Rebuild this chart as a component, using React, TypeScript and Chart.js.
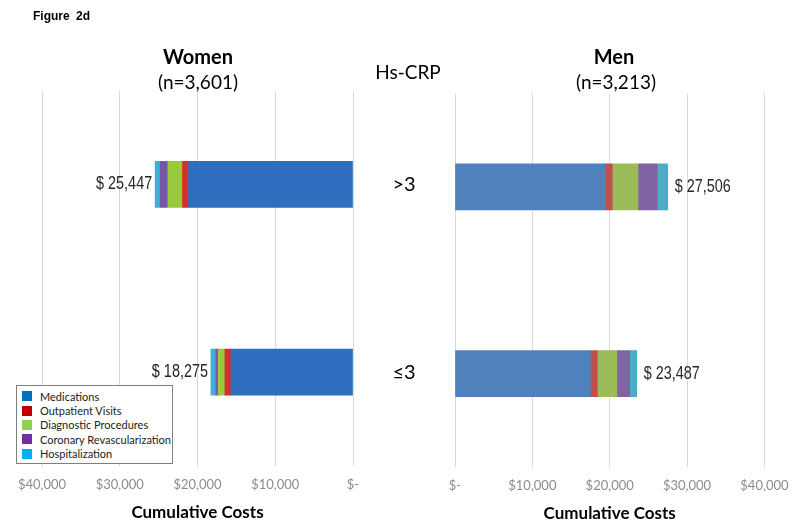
import React, { useEffect, useRef } from "react";
import { Chart, registerables } from "chart.js";

Chart.register(...registerables);

// ---------- data ----------
const categories = [">3", "≤3"];
const seriesNames = [
  "Medications",
  "Outpatient Visits",
  "Diagnostic Procedures",
  "Coronary Revascularization",
  "Hospitalization",
];
const womenMedications = [21150, 15705];
const womenOutpatient = [780, 770];
const womenDiagnostic = [1880, 860];
const womenCoronary = [990, 300];
const womenHospitalization = [647, 640];

const menMedications = [19476, 17495];
const menOutpatient = [850, 900];
const menDiagnostic = [3330, 2525];
const menCoronary = [2490, 1667];
const menHospitalization = [1360, 900];

const xMin = 0;
const xMax = 40000;
const xStep = 10000;

const womenHeading = "Women";
const womenN = "(n=3,601)";
const menHeading = "Men";
const menN = "(n=3,213)";
const middleHeading = "Hs-CRP";
const figureLabel = "Figure 2d";
const axisTitle = "Cumulative Costs";

// ---------- styles ----------
const womenColors = ["#2F6FBF", "#D2322D", "#9AC93C", "#7656A8", "#3DB0D8"];
const menColors = ["#4F81BD", "#C0504D", "#9BBB59", "#8064A2", "#4BACC6"];
const legendColors = ["#0070C0", "#C00000", "#92D050", "#7030A0", "#00B0F0"];

const CAL = 'Lato, "Open Sans", sans-serif';

const fmtTick = (v: number) => (v === 0 ? "$-" : "$" + v.toLocaleString("en-US"));
const fmtTotal = (v: number) => "$ " + v.toLocaleString("en-US");

const NARROW = 0.8;

const valueLabelPlugin = {
  id: "valueLabels",
  afterDatasetsDraw(chart: any, _args: any, opts: any) {
    const { ctx } = chart;
    const x = chart.scales.x;
    const y = chart.scales.y;
    const n = chart.data.labels.length;
    for (let i = 0; i < n; i++) {
      const total = chart.data.datasets.reduce((s: number, d: any) => s + d.data[i], 0);
      const px = x.getPixelForValue(total);
      const py = y.getPixelForValue(i);
      // narrow (condensed) value label
      ctx.save();
      ctx.textBaseline = "middle";
      ctx.font = '18px "Liberation Sans", Arial, sans-serif';
      ctx.fillStyle = "#262626";
      const tx = opts.side === "left" ? px - 3 : px + 7;
      ctx.translate(tx, py);
      ctx.scale(NARROW, 1);
      ctx.textAlign = opts.side === "left" ? "right" : "left";
      ctx.fillText(fmtTotal(total), 0, 0);
      ctx.restore();
      if (opts.categoryX != null) {
        ctx.save();
        ctx.textBaseline = "middle";
        ctx.font = "20px " + CAL;
        ctx.fillStyle = "#000";
        ctx.textAlign = "center";
        ctx.fillText(chart.data.labels[i], opts.categoryX, py);
        ctx.restore();
      }
    }
  },
};

function makeConfig(
  values: number[][],
  colors: string[],
  reverse: boolean,
  padding: any,
  pluginOpts: any
): any {
  return {
    type: "bar",
    data: {
      labels: categories,
      datasets: seriesNames.map((name, i) => ({
        label: name,
        data: values[i],
        backgroundColor: colors[i],
        borderWidth: 0,
        barThickness: 46,
      })),
    },
    options: {
      indexAxis: "y",
      responsive: false,
      animation: false,
      devicePixelRatio: 1,
      layout: { padding },
      plugins: {
        legend: { display: false },
        tooltip: { enabled: false },
        valueLabels: pluginOpts,
      },
      scales: {
        x: {
          stacked: true,
          reverse,
          min: xMin,
          max: xMax,
          ticks: {
            stepSize: xStep,
            padding: 11.5,
            color: "#8C8C8C",
            font: { family: CAL, size: 13 },
            callback: (v: any) => fmtTick(Number(v)),
            maxRotation: 0,
          },
          grid: { color: "#D9D9D9", drawTicks: false, lineWidth: 1 },
          border: { display: false },
          title: {
            display: true,
            text: axisTitle,
            color: "#000",
            font: { family: CAL, size: 17, weight: "bold" },
            padding: { top: -2, bottom: 4 },
          },
        },
        y: {
          stacked: true,
          display: false,
        },
      },
    },
    plugins: [valueLabelPlugin],
  };
}

function ChartCanvas({ config, width, height, style }: any) {
  const ref = useRef<HTMLCanvasElement | null>(null);
  useEffect(() => {
    if (!ref.current) return;
    const chart = new Chart(ref.current, config);
    return () => chart.destroy();
  }, []);
  return <canvas ref={ref} width={width} height={height} style={{ position: "absolute", ...style, width, height }} />;
}

export default function App() {
  const womenValues = [womenMedications, womenOutpatient, womenDiagnostic, womenCoronary, womenHospitalization];
  const menValues = [menMedications, menOutpatient, menDiagnostic, menCoronary, menHospitalization];

  const leftConfig = makeConfig(womenValues, womenColors, true, { left: 42, right: 67, top: 90.5, bottom: 4 }, {
    side: "left",
    categoryX: 404,
  });
  const rightConfig = makeConfig(menValues, menColors, false, { left: 35, right: 33, top: 93.5, bottom: 3 }, {
    side: "right",
  });

  const text = (content: string, cx: number, cy: number, size: number, bold: boolean, family = CAL) => (
    <div
      style={{
        position: "absolute",
        left: cx - 150,
        top: cy - size * 0.6,
        width: 300,
        textAlign: "center",
        fontFamily: family,
        fontSize: size,
        lineHeight: size * 1.2 + "px",
        fontWeight: bold ? 700 : 400,
        color: "#000",
        whiteSpace: "nowrap",
      }}
    >
      {content}
    </div>
  );

  return (
    <div
      style={{
        position: "absolute",
        left: 0,
        top: 0,
        width: 800,
        height: 531,
        background: "#fff",
        overflow: "hidden",
      }}
    >
      <ChartCanvas config={leftConfig} width={420} height={531} style={{ left: 0, top: 0 }} />
      <ChartCanvas config={rightConfig} width={380} height={531} style={{ left: 420, top: 0 }} />

      <div
        style={{
          position: "absolute",
          left: 33,
          top: 9,
          fontFamily: '"Liberation Sans", Arial, sans-serif',
          fontWeight: 700,
          fontSize: 12,
          wordSpacing: 3,
          color: "#000",
        }}
      >
        {figureLabel}
      </div>
      {text(womenHeading, 198, 56, 20, true)}
      {text(womenN, 198, 82, 19, false)}
      {text(middleHeading, 408, 72, 19, false)}
      {text(menHeading, 614, 56, 20, true)}
      {text(menN, 616, 82, 19, false)}

      <div
        style={{
          position: "absolute",
          left: 16,
          top: 385,
          width: 157,
          height: 79,
          boxSizing: "border-box",
          border: "1px solid #7F7F7F",
          background: "#fff",
          paddingTop: 3,
          fontFamily: CAL,
          fontSize: 11,
          color: "#222",
        }}
      >
        {seriesNames.map((name, i) => (
          <div key={name} style={{ display: "flex", alignItems: "center", height: 14.4, whiteSpace: "nowrap" }}>
            <span
              style={{
                display: "inline-block",
                width: 10,
                height: 10,
                marginLeft: 5,
                marginRight: 8,
                background: legendColors[i],
              }}
            />
            <span>{name}</span>
          </div>
        ))}
      </div>
    </div>
  );
}
